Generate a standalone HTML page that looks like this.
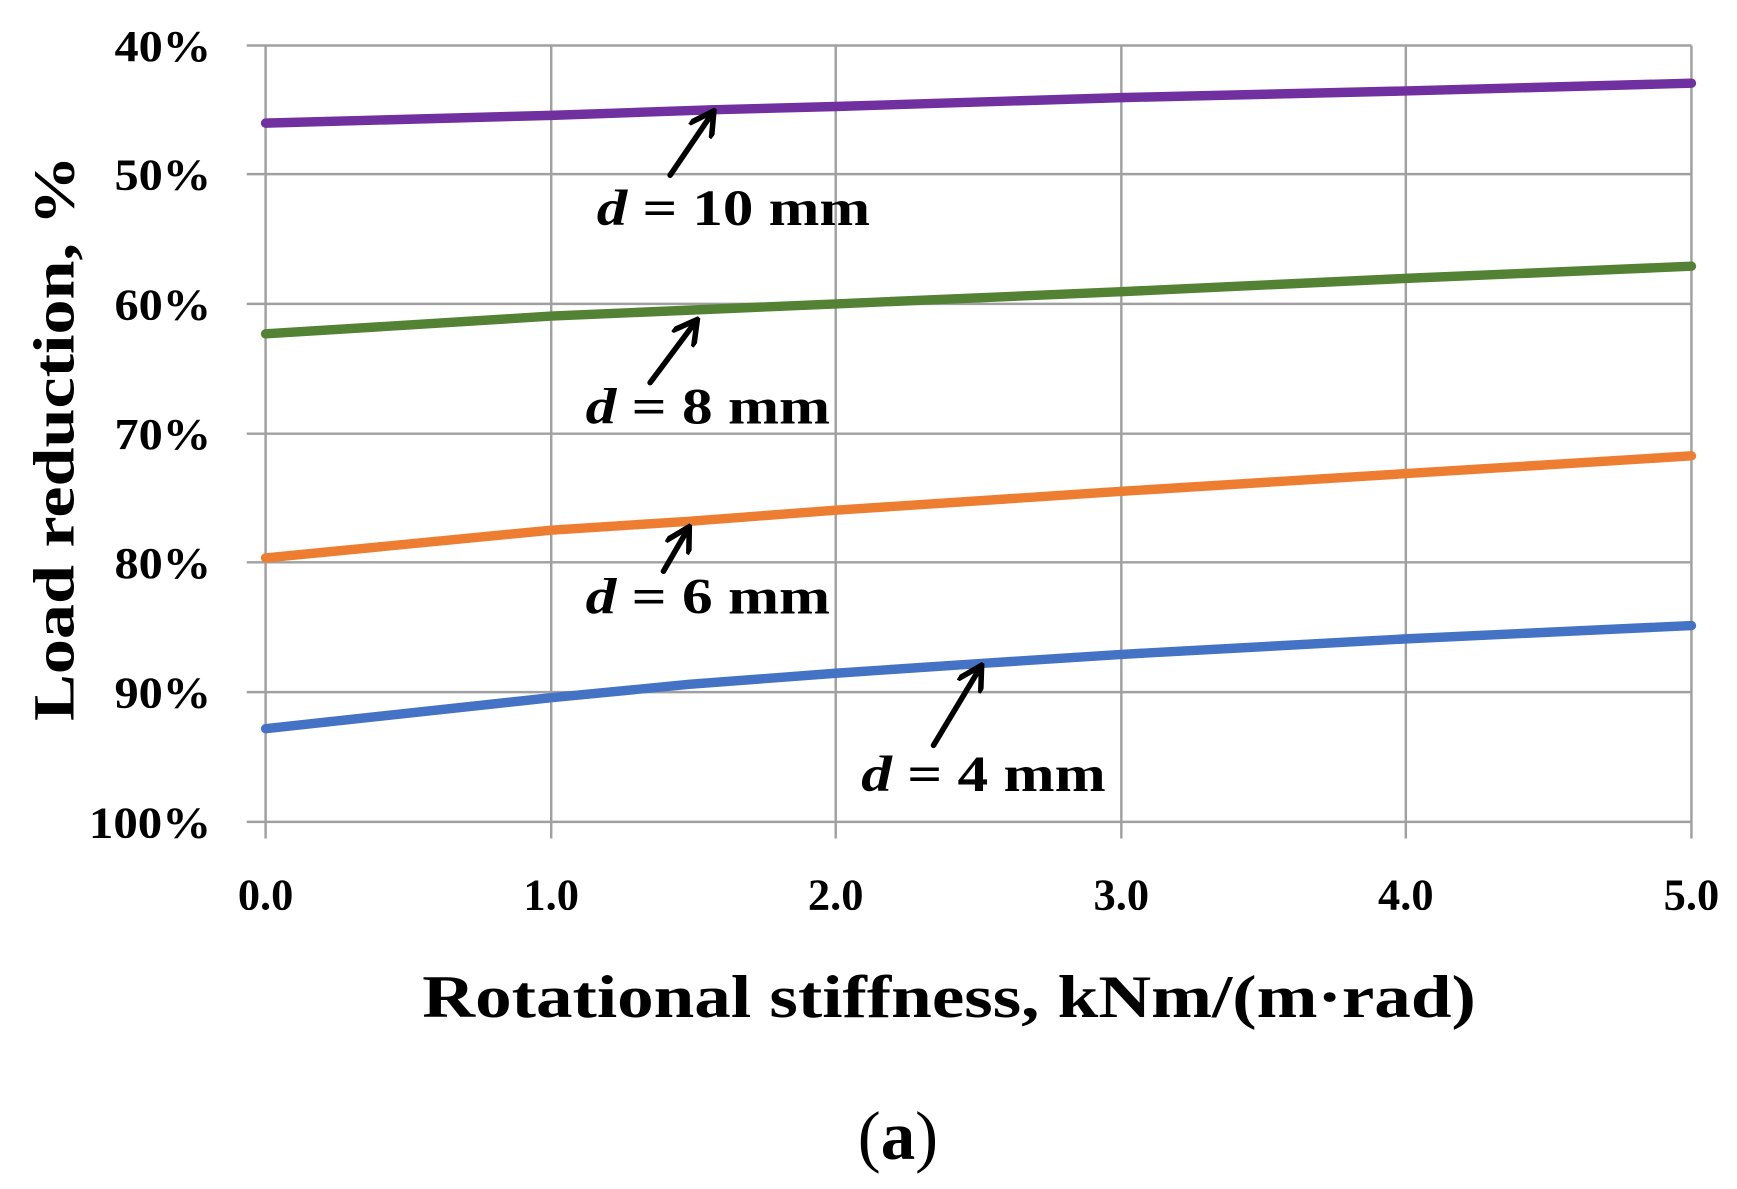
<!DOCTYPE html>
<html><head><meta charset="utf-8"><style>
html,body{margin:0;padding:0;background:#fff;width:1737px;height:1189px;overflow:hidden}
svg{display:block}
text{font-family:"Liberation Serif",serif;font-weight:bold;fill:#000}
</style></head><body>
<svg width="1737" height="1189" viewBox="0 0 1563 1072" preserveAspectRatio="none">
<defs><marker id="ah" viewBox="0 0 10 10" refX="8" refY="5" markerWidth="5" markerHeight="5" orient="auto"><path d="M0,0 L9,5 L0,10" fill="none" stroke="#000" stroke-width="2"/></marker></defs>
<g stroke="#a0a0a0" stroke-width="2.2">
<line x1="222" y1="41" x2="1522" y2="41"/><line x1="222" y1="157" x2="1522" y2="157"/><line x1="222" y1="274" x2="1522" y2="274"/><line x1="222" y1="391" x2="1522" y2="391"/><line x1="222" y1="507" x2="1522" y2="507"/><line x1="222" y1="624" x2="1522" y2="624"/><line x1="222" y1="741" x2="1522" y2="741"/>
<line x1="239" y1="41" x2="239" y2="756"/><line x1="496" y1="41" x2="496" y2="756"/><line x1="752" y1="41" x2="752" y2="756"/><line x1="1009" y1="41" x2="1009" y2="756"/><line x1="1265" y1="41" x2="1265" y2="756"/><line x1="1522" y1="41" x2="1522" y2="756"/>
</g>
<g fill="none" stroke-width="8.5" stroke-linecap="round" stroke-linejoin="round">
<path d="M239,111 L496,104 L640,99 L752,96 L1009,88 L1265,82 L1522,75" stroke="#7030a0"/>
<path d="M239,301 L496,285 L752,274 L1009,263 L1265,251 L1522,240" stroke="#548235"/>
<path d="M239,503 L496,478 L620,470 L752,460 L1009,443 L1265,427 L1522,411" stroke="#ed7d31"/>
<path d="M239,657 L496,629 L620,617 L752,607 L885,598 L1009,590 L1265,576 L1522,564" stroke="#4472c4"/>
</g>
<g stroke="#000" stroke-width="5" fill="none" stroke-linecap="round">
<line x1="603" y1="158" x2="641" y2="102" marker-end="url(#ah)"/>
<line x1="585" y1="345" x2="626" y2="290" marker-end="url(#ah)"/>
<line x1="597" y1="515" x2="619" y2="477" marker-end="url(#ah)"/>
<line x1="840" y1="672" x2="882" y2="602" marker-end="url(#ah)"/>
</g>
<g font-size="46">
<text x="537" y="203" textLength="246" lengthAdjust="spacingAndGlyphs"><tspan font-style="italic">d</tspan> = 10 mm</text>
<text x="527" y="382" textLength="220" lengthAdjust="spacingAndGlyphs"><tspan font-style="italic">d</tspan> = 8 mm</text>
<text x="527" y="553" textLength="220" lengthAdjust="spacingAndGlyphs"><tspan font-style="italic">d</tspan> = 6 mm</text>
<text x="775" y="713" textLength="220" lengthAdjust="spacingAndGlyphs"><tspan font-style="italic">d</tspan> = 4 mm</text>
</g>
<g font-size="40">
<text x="103" y="55" textLength="87" lengthAdjust="spacingAndGlyphs">40%</text><text x="103" y="171" textLength="87" lengthAdjust="spacingAndGlyphs">50%</text><text x="103" y="288" textLength="87" lengthAdjust="spacingAndGlyphs">60%</text><text x="103" y="405" textLength="87" lengthAdjust="spacingAndGlyphs">70%</text><text x="103" y="521" textLength="87" lengthAdjust="spacingAndGlyphs">80%</text><text x="103" y="638" textLength="87" lengthAdjust="spacingAndGlyphs">90%</text><text x="80" y="755" textLength="110" lengthAdjust="spacingAndGlyphs">100%</text>
</g>
<g font-size="40" text-anchor="middle">
<text x="239" y="820">0.0</text><text x="496" y="820">1.0</text><text x="752" y="820">2.0</text><text x="1009" y="820">3.0</text><text x="1265" y="820">4.0</text><text x="1522" y="820">5.0</text>
</g>
<text x="380" y="917" font-size="54" textLength="948" lengthAdjust="spacingAndGlyphs">Rotational stiffness, kNm/(m·rad)</text>
<text transform="translate(66,650) rotate(-90)" font-size="52" textLength="510" lengthAdjust="spacingAndGlyphs">Load reduction, %</text>
<text x="808" y="1045" font-size="62" text-anchor="middle" style="font-weight:normal">(<tspan font-weight="bold">a</tspan>)</text>
</svg>
</body></html>
